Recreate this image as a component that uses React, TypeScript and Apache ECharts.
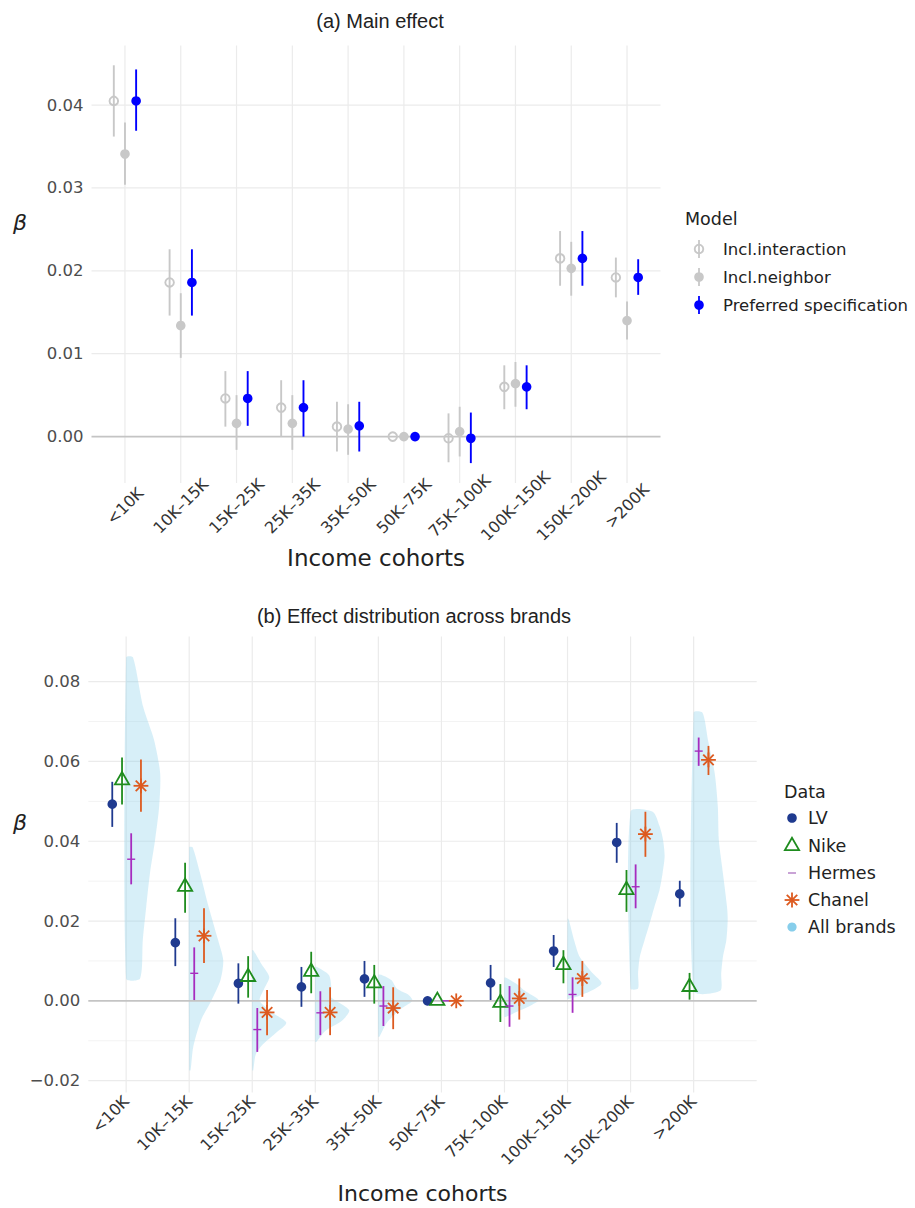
import React, { useEffect, useRef } from 'react';
import * as echarts from 'echarts';

// ---------------- data ----------------
const categories = ['<10K', '10K–15K', '15K–25K', '25K–35K', '35K–50K', '50K–75K', '75K–100K', '100K–150K', '150K–200K', '>200K'];

// (a) Main effect
const interactionPt = [0.0405, 0.0186, 0.0046, 0.0035, 0.0012, 0, -0.0002, 0.0060, 0.0215, 0.0192];
const interactionLo = [0.0362, 0.0146, 0.0012, 0.0000, -0.0018, 0, -0.0031, 0.0033, 0.0182, 0.0168];
const interactionHi = [0.0448, 0.0226, 0.0079, 0.0068, 0.0042, 0, 0.0028, 0.0086, 0.0248, 0.0216];
const neighborPt = [0.0341, 0.0134, 0.0016, 0.0016, 0.0009, 0, 0.0006, 0.0064, 0.0203, 0.0140];
const neighborLo = [0.0304, 0.0095, -0.0016, -0.0016, -0.0022, 0, -0.0024, 0.0036, 0.0170, 0.0117];
const neighborHi = [0.0379, 0.0173, 0.0050, 0.0050, 0.0039, 0, 0.0036, 0.0090, 0.0235, 0.0163];
const preferredPt = [0.0405, 0.0186, 0.0046, 0.0035, 0.0013, 0, -0.0002, 0.0060, 0.0215, 0.0192];
const preferredLo = [0.0369, 0.0146, 0.0013, 0.0000, -0.0018, 0, -0.0032, 0.0033, 0.0182, 0.0171];
const preferredHi = [0.0443, 0.0226, 0.0079, 0.0068, 0.0042, 0, 0.0029, 0.0086, 0.0248, 0.0214];

// (b) Effect distribution across brands
const lvPt = [0.0493, 0.0146, 0.0044, 0.0035, 0.0055, 0, 0.0045, 0.0125, 0.0397, 0.0268];
const lvLo = [0.0436, 0.0087, -0.0007, -0.0015, 0.0010, 0, 0.0002, 0.0085, 0.0346, 0.0236];
const lvHi = [0.0549, 0.0207, 0.0094, 0.0085, 0.0100, 0, 0.0090, 0.0165, 0.0446, 0.0301];
const nikePt = [0.0553, 0.0286, 0.0060, 0.0073, 0.0044, 0, -0.0005, 0.0090, 0.0278, 0.0035];
const nikeLo = [0.0492, 0.0221, 0.0008, 0.0019, -0.0007, 0, -0.0053, 0.0044, 0.0223, 0.0003];
const nikeHi = [0.0610, 0.0346, 0.0112, 0.0123, 0.0090, 0, 0.0042, 0.0127, 0.0328, 0.0070];
const hermesPt = [0.0355, 0.0069, -0.0072, -0.0030, -0.0013, 0, -0.0013, 0.0016, 0.0286, 0.0626];
const hermesLo = [0.0292, 0.0002, -0.0128, -0.0086, -0.0063, 0, -0.0065, -0.0030, 0.0232, 0.0589];
const hermesHi = [0.0420, 0.0134, -0.0018, 0.0024, 0.0037, 0, 0.0037, 0.0059, 0.0342, 0.0660];
const chanelPt = [0.0539, 0.0163, -0.0029, -0.0029, -0.0018, 0, 0.0006, 0.0056, 0.0418, 0.0604];
const chanelLo = [0.0474, 0.0095, -0.0086, -0.0086, -0.0071, 0, -0.0047, 0.0010, 0.0361, 0.0566];
const chanelHi = [0.0605, 0.0232, 0.0027, 0.0034, 0.0034, 0, 0.0056, 0.0100, 0.0474, 0.0639];

// half-violin profiles "All brands": [beta, relative width]
const violinLt10K = [[0.0861, 0.2], [0.0737, 0.5], [0.0654, 0.82], [0.057, 1.0], [0.0487, 0.97], [0.0403, 0.85], [0.032, 0.7], [0.0236, 0.59], [0.0153, 0.49], [0.0056, 0.41]];
const violin10K15K = [[0.0385, 0.1], [0.032, 0.32], [0.0236, 0.57], [0.0152, 0.85], [0.0102, 1.0], [0.0052, 0.92], [0.0, 0.65], [-0.0048, 0.35], [-0.0115, 0.12], [-0.0174, 0.04]];
const violin15K25K = [[0.0127, 0.03], [0.0095, 0.25], [0.006, 0.5], [0.003, 0.35], [0.0, 0.22], [-0.003, 0.6], [-0.0055, 1.0], [-0.008, 0.7], [-0.011, 0.3], [-0.0135, 0.1], [-0.0174, 0.03]];
const violin25K35K = [[0.0085, 0.05], [0.0065, 0.4], [0.0035, 0.47], [0.001, 0.45], [-0.001, 0.8], [-0.0025, 1.0], [-0.005, 0.78], [-0.0075, 0.3], [-0.0103, 0.03]];
const violin35K50K = [[0.0065, 0.1], [0.0052, 0.38], [0.003, 0.55], [0.0014, 0.9], [0.0, 1.0], [-0.0023, 0.62], [-0.0056, 0.24], [-0.009, 0.03]];
const violin50K75K: number[][] = [];
const violin75K100K = [[0.0058, 0.05], [0.004, 0.4], [0.0025, 0.6], [0.0005, 0.97], [0.0, 1.0], [-0.0015, 0.7], [-0.0028, 0.35], [-0.004, 0.05]];
const violin100K150K = [[0.0205, 0.03], [0.015, 0.2], [0.011, 0.36], [0.0069, 0.74], [0.0044, 1.0], [0.0027, 0.74], [0.001, 0.27], [0.0005, 0.05]];
const violin150K200K = [[0.0474, 0.65], [0.0438, 0.85], [0.0405, 0.95], [0.0363, 1.0], [0.032, 0.94], [0.0278, 0.85], [0.0236, 0.7], [0.0194, 0.56], [0.0152, 0.41], [0.011, 0.27], [0.0069, 0.22], [0.0031, 0.22]];
const violinGt200K = [[0.0722, 0.26], [0.0654, 0.42], [0.057, 0.62], [0.0487, 0.71], [0.0403, 0.74], [0.032, 0.86], [0.0236, 0.98], [0.0203, 1.0], [0.0152, 0.96], [0.011, 0.86], [0.0069, 0.81], [0.0025, 0.78]];
const violinProfiles = [violinLt10K, violin10K15K, violin15K25K, violin25K35K, violin35K50K, violin50K75K, violin75K100K, violin100K150K, violin150K200K, violinGt200K];

const topTicks = [0, 0.01, 0.02, 0.03, 0.04];
const bottomTicks = [-0.02, 0, 0.02, 0.04, 0.06, 0.08];
const bottomMinor = [-0.01, 0.01, 0.03, 0.05, 0.07];

// ---------------- styles ----------------
const FONT = 'DejaVu Sans';
const TITLE_FONT = 'Liberation Sans';
const GRID_COLOR = '#ebebeb';
const ZERO_COLOR = '#c4c4c4';
const GREY = '#c8c8c8';
const BLUE = '#0000ff';
const LV_C = '#1f3a8f';
const NIKE_C = '#1e8c1e';
const HERMES_C = '#a62cbf';
const CHANEL_C = '#dd5a1f';
const VIOLIN_C = '#87ceeb';
const VIOLIN_MAX = 0.54;
const LEG_FS = 16.5;
const LEG_FS_B = 17.5;

const fmt = (v: number) => (v < 0 ? '\u2212' + Math.abs(v).toFixed(2) : v.toFixed(2));

function markerShapes(kind: string, cx: number, cy: number, color: string): any[] {
  if (kind === 'dot') return [{ type: 'circle', shape: { cx, cy, r: 4.8 }, style: { fill: color } }];
  if (kind === 'ring') return [{ type: 'circle', shape: { cx, cy, r: 4.3 }, style: { fill: 'none', stroke: color, lineWidth: 1.9 } }];
  if (kind === 'tri') {
    const r = 8.2;
    return [{ type: 'polygon', shape: { points: [[cx, cy - r], [cx - r * 0.866, cy + r * 0.5], [cx + r * 0.866, cy + r * 0.5]] }, style: { fill: 'none', stroke: color, lineWidth: 1.8 } }];
  }
  if (kind === 'dash') return [{ type: 'line', shape: { x1: cx - 4, y1: cy, x2: cx + 4, y2: cy }, style: { stroke: color, lineWidth: 1.4 } }];
  if (kind === 'star') {
    const r = 7.4, d = r * 0.707;
    return [
      { type: 'line', shape: { x1: cx - r, y1: cy, x2: cx + r, y2: cy }, style: { stroke: color, lineWidth: 1.8 } },
      { type: 'line', shape: { x1: cx, y1: cy - r, x2: cx, y2: cy + r }, style: { stroke: color, lineWidth: 1.8 } },
      { type: 'line', shape: { x1: cx - d, y1: cy - d, x2: cx + d, y2: cy + d }, style: { stroke: color, lineWidth: 1.8 } },
      { type: 'line', shape: { x1: cx - d, y1: cy + d, x2: cx + d, y2: cy - d }, style: { stroke: color, lineWidth: 1.8 } },
    ];
  }
  return [];
}

function pointRangeSeries(name: string, gi: number, offset: number, pt: number[], lo: number[], hi: number[], kind: string, color: string, lw: number, z: number) {
  return {
    type: 'custom', name, xAxisIndex: gi, yAxisIndex: gi, z, silent: true,
    data: categories.map((_, i) => [i + offset, pt[i], lo[i], hi[i]]),
    renderItem: (_params: any, api: any) => {
      const x = api.value(0);
      const p = api.coord([x, api.value(1)]);
      const a = api.coord([x, api.value(2)]);
      const b = api.coord([x, api.value(3)]);
      return {
        type: 'group',
        children: [
          { type: 'line', shape: { x1: a[0], y1: a[1], x2: b[0], y2: b[1] }, style: { stroke: color, lineWidth: lw } },
          ...markerShapes(kind, p[0], p[1], color),
        ],
      };
    },
  };
}

function hLines(gi: number, values: number[], color: string, width: number, z: number) {
  return {
    type: 'custom', xAxisIndex: gi, yAxisIndex: gi, z, silent: true,
    data: values.map((v) => [0, v]),
    renderItem: (params: any, api: any) => {
      const cs = params.coordSys;
      const y = api.coord([api.value(0), api.value(1)])[1];
      return { type: 'line', shape: { x1: cs.x, y1: y, x2: cs.x + cs.width, y2: y }, style: { stroke: color, lineWidth: width } };
    },
  };
}

function vLines(gi: number, color: string, width: number, z: number) {
  return {
    type: 'custom', xAxisIndex: gi, yAxisIndex: gi, z, silent: true,
    data: categories.map((_, i) => [i, 0]),
    renderItem: (params: any, api: any) => {
      const cs = params.coordSys;
      const x = api.coord([api.value(0), api.value(1)])[0];
      return { type: 'line', shape: { x1: x, y1: cs.y, x2: x, y2: cs.y + cs.height }, style: { stroke: color, lineWidth: width } };
    },
  };
}

function violinSeries(gi: number) {
  return {
    type: 'custom', name: 'All brands', xAxisIndex: gi, yAxisIndex: gi, z: 2, silent: true,
    data: categories.map((_, i) => [i, 0]),
    renderItem: (_params: any, api: any) => {
      const i = api.value(0);
      const prof = violinProfiles[i];
      if (!prof || prof.length < 2) return null;
      const pts = prof.map(([y, w]) => api.coord([i + w * VIOLIN_MAX, y]));
      const bottom = api.coord([i, prof[prof.length - 1][0]]);
      const top = api.coord([i, prof[0][0]]);
      return {
        type: 'polygon',
        shape: { points: [top, ...pts, bottom], smooth: 0.25 },
        style: { fill: VIOLIN_C, opacity: 0.33 },
      };
    },
  };
}

const txt = (x: number, y: number, text: string, size: number, extra: any = {}) => ({
  type: 'text', x, y, silent: true,
  style: { text, fontSize: size, fontFamily: FONT, fill: '#222', align: 'left', verticalAlign: 'middle', ...extra },
});

function legendGlyph(kind: string, x: number, y: number, color: string, withBar: boolean): any[] {
  const out: any[] = [];
  if (withBar) out.push({ type: 'line', shape: { x1: x, y1: y - 9, x2: x, y2: y + 9 }, style: { stroke: color, lineWidth: 1.8 } });
  markerShapes(kind, x, y, color).forEach((m) => out.push(m));
  return out;
}

const option: any = {
  animation: false,
  backgroundColor: '#ffffff',
  grid: [
    { left: 91.5, top: 45.4, width: 569, height: 437.6, outerBoundsMode: 'none' },
    { left: 88.3, top: 636.6, width: 668.4, height: 456, outerBoundsMode: 'none' },
  ],
  xAxis: [
    {
      type: 'value', gridIndex: 0, min: -0.6, max: 9.6,
      axisLine: { show: false }, axisTick: { show: false }, splitLine: { show: false },
      axisLabel: {
        customValues: categories.map((_, i) => i),
        formatter: (v: number) => categories[Math.round(v)] ?? '',
        rotate: 45, align: 'center', verticalAlign: 'middle', margin: 23,
        fontSize: 16, color: '#333', fontFamily: FONT,
      },
      name: 'Income cohorts', nameLocation: 'middle', nameGap: 75, nameMoveOverlap: false,
      nameTextStyle: { fontSize: 23, color: '#222', fontFamily: FONT, verticalAlign: 'middle' },
    },
    {
      type: 'value', gridIndex: 1, min: -0.6, max: 10.0,
      axisLine: { show: false }, axisTick: { show: false }, splitLine: { show: false },
      axisLabel: {
        customValues: categories.map((_, i) => i),
        formatter: (v: number) => categories[Math.round(v)] ?? '',
        rotate: 45, margin: 6,
        fontSize: 16, color: '#333', fontFamily: FONT,
      },
      name: 'Income cohorts', nameLocation: 'middle', nameGap: 101, nameMoveOverlap: false,
      nameTextStyle: { fontSize: 22, color: '#222', fontFamily: FONT, verticalAlign: 'middle' },
    },
  ],
  yAxis: [
    {
      type: 'value', gridIndex: 0, min: -0.0056, max: 0.0472,
      axisLine: { show: false }, axisTick: { show: false }, splitLine: { show: false },
      axisLabel: { customValues: topTicks, formatter: fmt, fontSize: 16.5, color: '#4d4d4d', fontFamily: FONT, margin: 8 },
    },
    {
      type: 'value', gridIndex: 1, min: -0.023, max: 0.0913,
      axisLine: { show: false }, axisTick: { show: false }, splitLine: { show: false },
      axisLabel: { customValues: bottomTicks, formatter: fmt, fontSize: 16.5, color: '#4d4d4d', fontFamily: FONT, margin: 8 },
    },
  ],
  series: [
    // panel (a)
    hLines(0, topTicks.filter((v) => v !== 0), GRID_COLOR, 1.2, 0),
    vLines(0, GRID_COLOR, 1.2, 0),
    hLines(0, [0], ZERO_COLOR, 1.8, 3),
    pointRangeSeries('Incl.interaction', 0, -0.2, interactionPt, interactionLo, interactionHi, 'ring', GREY, 1.9, 4),
    pointRangeSeries('Incl.neighbor', 0, 0, neighborPt, neighborLo, neighborHi, 'dot', GREY, 1.9, 4),
    pointRangeSeries('Preferred specification', 0, 0.2, preferredPt, preferredLo, preferredHi, 'dot', BLUE, 1.9, 5),
    // panel (b)
    hLines(1, bottomMinor, '#f3f3f3', 1, 0),
    hLines(1, bottomTicks.filter((v) => v !== 0), GRID_COLOR, 1.2, 0),
    vLines(1, GRID_COLOR, 1.2, 0),
    violinSeries(1),
    hLines(1, [0], ZERO_COLOR, 1.8, 3),
    pointRangeSeries('LV', 1, -0.22, lvPt, lvLo, lvHi, 'dot', LV_C, 1.8, 4),
    pointRangeSeries('Nike', 1, -0.065, nikePt, nikeLo, nikeHi, 'tri', NIKE_C, 1.8, 4),
    pointRangeSeries('Hermes', 1, 0.08, hermesPt, hermesLo, hermesHi, 'dash', HERMES_C, 1.8, 4),
    pointRangeSeries('Chanel', 1, 0.235, chanelPt, chanelLo, chanelHi, 'star', CHANEL_C, 1.8, 4),
  ],
  graphic: {
    elements: [
      txt(380, 21, '(a) Main effect', 20, { fontFamily: TITLE_FONT, align: 'center' }),
      txt(414, 616, '(b) Effect distribution across brands', 20, { fontFamily: TITLE_FONT, align: 'center' }),
      txt(20, 222, 'β', 22, { fontStyle: 'italic', align: 'center' }),
      txt(20, 822, 'β', 22, { fontStyle: 'italic', align: 'center' }),
      // legend (a)
      txt(685, 219, 'Model', LEG_FS_B),
      ...legendGlyph('ring', 699, 249, GREY, true),
      txt(723, 249, 'Incl.interaction', LEG_FS),
      ...legendGlyph('dot', 699, 277, GREY, true),
      txt(723, 277, 'Incl.neighbor', LEG_FS),
      ...legendGlyph('dot', 699, 305, BLUE, true),
      txt(723, 305, 'Preferred specification', LEG_FS),
      // legend (b)
      txt(784, 792, 'Data', LEG_FS_B),
      ...legendGlyph('dot', 792, 818, LV_C, false),
      txt(808, 818, 'LV', LEG_FS_B),
      ...legendGlyph('tri', 792, 846, NIKE_C, false),
      txt(808, 846, 'Nike', LEG_FS_B),
      ...legendGlyph('dash', 792, 873, '#b27cc4', false),
      txt(808, 873, 'Hermes', LEG_FS_B),
      ...legendGlyph('star', 792, 900, CHANEL_C, false),
      txt(808, 900, 'Chanel', LEG_FS_B),
      { type: 'circle', shape: { cx: 792, cy: 927, r: 4.6 }, style: { fill: VIOLIN_C }, silent: true },
      txt(808, 927, 'All brands', LEG_FS_B),
    ],
  },
};

export default function App() {
  const ref = useRef<HTMLDivElement>(null);
  useEffect(() => {
    if (!ref.current) return;
    const chart = echarts.init(ref.current, null, { renderer: 'svg' });
    chart.setOption(option);
    return () => chart.dispose();
  }, []);
  return <div ref={ref} style={{ position: 'absolute', left: 0, top: 0, width: 915, height: 1208, background: '#fff' }} />;
}
